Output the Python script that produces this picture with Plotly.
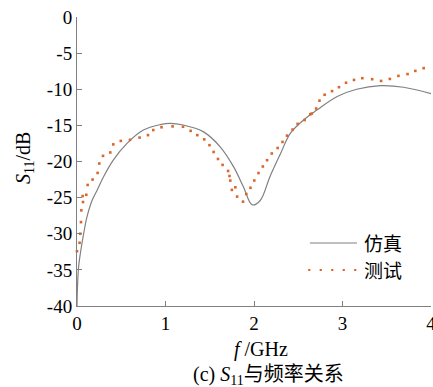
import plotly.graph_objects as go

# Simulated S11 (solid gray line)
sim_f = [0.0, 0.005, 0.018, 0.037, 0.075, 0.11, 0.17, 0.226, 0.30, 0.41, 0.565, 0.75, 0.94, 1.05,
         1.2, 1.43, 1.62, 1.77, 1.88, 1.98, 2.07, 2.18, 2.30, 2.41, 2.56, 2.71, 2.94, 3.16, 3.43, 3.69, 4.0]
sim_db = [-40.0, -37.5, -34.6, -32.8, -30.0, -27.8, -25.4, -24.0, -22.1, -19.8, -17.5, -15.65, -14.9, -14.72,
          -14.95, -15.9, -18.0, -20.75, -23.5, -26.0, -25.4, -22.1, -18.9, -16.1, -14.26, -12.88, -11.0, -10.0, -9.5, -9.72, -10.6]

# Measured S11 (orange dots)
meas_f = [0.0, 0.029, 0.037, 0.045, 0.049, 0.068, 0.064, 0.105, 0.120, 0.176, 0.233, 0.252, 0.294, 0.376,
          0.410, 0.495, 0.599, 0.707, 0.802, 0.862, 0.955, 1.080, 1.198, 1.284, 1.359, 1.438, 1.497, 1.544,
          1.593, 1.645, 1.707, 1.723, 1.732, 1.750, 1.789, 1.809, 1.876, 1.913, 1.960, 2.003, 2.051, 2.100,
          2.148, 2.201, 2.267, 2.322, 2.373, 2.436, 2.493, 2.572, 2.636, 2.653, 2.702, 2.740, 2.798, 2.882,
          2.960, 3.040, 3.130, 3.224, 3.335, 3.436, 3.535, 3.632, 3.735, 3.823, 3.917]
meas_db = [-32.42, -31.25, -30.0, -28.39, -26.76, -25.61, -24.78, -24.61, -23.25, -22.5, -21.58, -20.28, -19.22, -18.75,
           -17.63, -17.15, -17.0, -16.69, -16.35, -15.65, -15.26, -15.14, -15.19, -15.76, -16.35, -16.94, -17.74, -18.68,
           -19.65, -20.47, -21.31, -22.01, -22.64, -23.93, -23.57, -24.86, -25.56, -24.5, -23.64, -22.63, -21.6, -20.69,
           -19.82, -18.89, -18.13, -17.29, -16.42, -15.58, -14.79, -14.26, -13.46, -13.36, -12.67, -11.58, -10.76, -10.26,
           -9.71, -9.10, -8.71, -8.47, -8.61, -8.85, -8.57, -8.15, -7.90, -7.46, -7.08]

x_ticks = [0, 1, 2, 3, 4]
y_ticks = [0, -5, -10, -15, -20, -25, -30, -35, -40]
legend_names = ["仿真", "测试"]
x_title = "<i>f</i> /GHz"
y_title = "<i>S</i><sub>11</sub>/dB"
caption = "(c) <i>S</i><sub>11</sub>与频率关系"

SIM_COLOR = "#808080"
MEAS_COLOR = "#d9662a"
AXIS_COLOR = "#808080"
FONT = "Liberation Serif, Noto Sans CJK SC, serif"

fig = go.Figure()
fig.add_trace(go.Scatter(x=sim_f, y=sim_db, mode="lines", line=dict(color=SIM_COLOR, width=1.2, shape="spline"),
                         name=legend_names[0], showlegend=False, cliponaxis=False))
fig.add_trace(go.Scatter(x=meas_f, y=meas_db, mode="markers",
                         marker=dict(color=MEAS_COLOR, size=2.6, symbol="square", line=dict(width=0)),
                         name=legend_names[1], showlegend=False, cliponaxis=False))

axis_common = dict(showline=True, linecolor=AXIS_COLOR, linewidth=1, ticks="inside", ticklen=5,
                   tickcolor=AXIS_COLOR, showgrid=False, zeroline=False, mirror=False, automargin=False,
                   ticklabeloverflow="allow",
                   tickfont=dict(family=FONT, size=19, color="black"))
fig.update_xaxes(range=[0, 4], tickvals=x_ticks, ticktext=[str(v) for v in x_ticks], **axis_common)
fig.update_yaxes(range=[-40, 0], tickvals=y_ticks, ticktext=[str(v) for v in y_ticks], **axis_common)

# manual legend
fig.add_shape(type="line", xref="paper", yref="paper", x0=0.658, x1=0.791, y0=0.218, y1=0.218,
              line=dict(color=SIM_COLOR, width=1.2))
fig.add_shape(type="line", xref="paper", yref="paper", x0=0.653, x1=0.80, y0=0.1246, y1=0.1246,
              line=dict(color=MEAS_COLOR, width=2.2, dash="2.2px,9.3px"))
for name, yp in zip(legend_names, [0.218, 0.1246]):
    fig.add_annotation(text=name, xref="paper", yref="paper", x=0.805, y=yp, xanchor="left", yanchor="middle",
                       showarrow=False, font=dict(family="Noto Sans CJK SC", size=19, color="black"))

fig.add_annotation(text=x_title, xref="paper", yref="paper", x=0.52, y=-0.152, xanchor="center", yanchor="middle",
                   showarrow=False, font=dict(family=FONT, size=20, color="black"))
fig.add_annotation(text=y_title, xref="paper", yref="paper", x=-0.15, y=0.512, xanchor="center", yanchor="middle",
                   textangle=-90, showarrow=False, font=dict(family=FONT, size=20, color="black"))
fig.add_annotation(text=caption, xref="paper", yref="paper", x=0.54, y=-0.239, xanchor="center", yanchor="middle",
                   showarrow=False, font=dict(family=FONT, size=20, color="black"))

fig.update_layout(width=433, height=387, margin=dict(l=77, r=2, t=17, b=81),
                  plot_bgcolor="white", paper_bgcolor="white", showlegend=False)
fig.write_html("out.html", config={"displayModeBar": False},
               post_script="document.body.style.margin='0';document.body.style.overflow='hidden';")
